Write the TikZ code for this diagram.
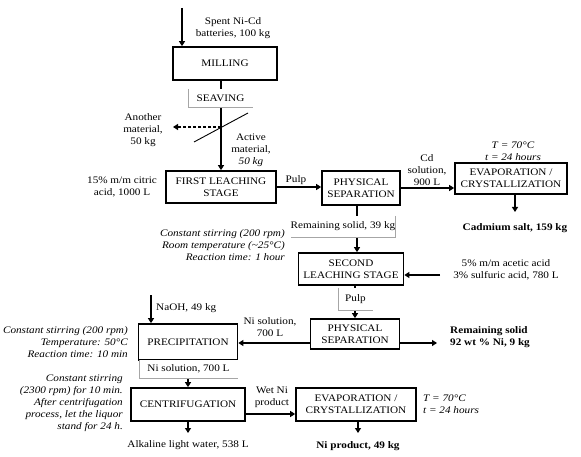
\documentclass[tikz,border=0pt]{standalone}
\usepackage{fontspec}
\setmainfont{Liberation Serif}[FakeStretch=1.12]
\usepackage{tikz}
\usetikzlibrary{arrows.meta}
\tikzset{
  proc/.style={draw, line width=1.7pt, align=center, inner sep=1pt,
    font=\fontsize{10}{12}\selectfont},
  flow/.style={-{Triangle[length=5pt,width=6pt]}, line width=1.6pt},
  tag/.style={draw=gray!70, line width=0.6pt},
  tagbox/.style={fill=white, inner sep=0pt, font=\fontsize{10}{12}\selectfont},
  lbl/.style={align=center, inner sep=1pt, font=\fontsize{10}{12}\selectfont},
  cond/.style={align=right, inner sep=1pt, font=\fontsize{10}{12}\selectfont\itshape},
  prod/.style={align=center, inner sep=1pt, font=\fontsize{10}{12}\selectfont\bfseries},
}
\begin{document}
\begin{tikzpicture}[x=1pt, y=-1pt]
  \useasboundingbox (0,0) rectangle (581,457);

  % process boxes
  \node[proc, minimum width=104pt, minimum height=33pt] (milling) at (225,63.5) {MILLING};
  \node[proc, minimum width=110pt, minimum height=32pt] (first) at (221,187) {FIRST LEACHING\\STAGE};
  \node[proc, minimum width=78pt, minimum height=34pt] (phys1) at (361,188) {PHYSICAL\\SEPARATION};
  \node[proc, minimum width=112pt, minimum height=31pt] (evap1) at (511,178.5) {EVAPORATION /\\CRYSTALLIZATION};
  \node[proc, minimum width=105pt, minimum height=32pt] (second) at (351,269) {SECOND\\LEACHING STAGE};
  \node[proc, minimum width=89pt, minimum height=30pt] (phys2) at (355,334) {PHYSICAL\\SEPARATION};
  \node[proc, minimum width=99pt, minimum height=36pt] (precip) at (188,342) {PRECIPITATION};
  \node[proc, minimum width=114pt, minimum height=33pt] (centrif) at (188,404.5) {CENTRIFUGATION};
  \node[proc, minimum width=120pt, minimum height=33pt] (evap2) at (356,404.5) {EVAPORATION /\\CRYSTALLIZATION};

  % feed and milling
  \coordinate (feed) at (182,8);
  \draw[flow] (feed) -- (feed |- milling.north);
  \node[lbl] (feedlbl) at (233,28) {Spent Ni-Cd\\batteries, 100 kg};
  \draw[flow] (milling.south -| first.north) -- (first.north);
  \draw[line width=0.9pt] (194,142) -- (248,113);
  \coordinate (split) at (221,127);
  \coordinate (reject) at (173,127);
  \draw[flow, dash pattern=on 3pt off 2pt] (split) -- (reject);
  \node[lbl] (another) at (143,130) {Another\\material,\\50 kg};
  \node[lbl] (active) at (251,150) {Active\\material,\\\textit{50 kg}};

  % first leaching
  \node[lbl] (citric) at (122,187) {15\% m/m citric\\acid, 1000 L};
  \draw[flow] (first.east) -- (first.east -| phys1.west);
  \node[lbl] (pulp1) at (296,180) {Pulp};
  \draw[flow] (phys1.east) -- (phys1.east -| evap1.west);
  \node[lbl] (cdsol) at (427,170) {Cd\\solution,\\900 L};
  \node[cond, align=center] (cond0) at (513,151) {T = 70°C\\t = 24 hours};
  \coordinate (cdout) at (515,212);
  \draw[flow] (evap1.south -| cdout) -- (cdout);
  \node[prod] (cdsalt) at (515,228) {Cadmium salt, 159 kg};

  % second leaching
  \draw[flow] (phys1.south -| 357,0) -- (second.north -| 357,0);
  \node[cond, anchor=east] (cond1) at (286,245) {Constant stirring (200 rpm)\\Room temperature (\textasciitilde25°C)\\Reaction time: 1 hour};
  \coordinate (acid) at (440,275);
  \draw[flow] (acid) -- (acid -| second.east);
  \node[lbl] (acidlbl) at (506,270) {5\% m/m acetic acid\\3\% sulfuric acid, 780 L};
  \draw[flow] (second.south -| phys2.north) -- (phys2.north);

  % nickel recovery
  \coordinate (solid) at (437,343);
  \draw[flow] (solid -| phys2.east) -- (solid);
  \node[prod, anchor=west, align=left] (remain2) at (449,337) {Remaining solid\\92 wt \% Ni, 9 kg};
  \draw[flow] (solid -| phys2.west) -- (solid -| precip.east);
  \node[lbl] (nisol1) at (270,327) {Ni solution,\\700 L};
  \coordinate (naoh) at (151,295);
  \draw[flow] (naoh) -- (naoh |- precip.north);
  \node[lbl, anchor=west] (naohlbl) at (155,308) {NaOH, 49 kg};
  \node[cond, anchor=east] (cond2) at (129,342) {Constant stirring (200 rpm)\\Temperature: 50°C\\Reaction time: 10 min};
  \draw[flow] (precip.south) -- (centrif.north);
  \node[cond, anchor=east] (cond3) at (124,403) {Constant stirring\\(2300 rpm) for 10 min.\\After centrifugation\\process, let the liquor\\stand for 24 h.};
  \coordinate (water) at (188,433);
  \draw[flow] (centrif.south) -- (water);
  \node[lbl] (waterlbl) at (188,445) {Alkaline light water, 538 L};
  \coordinate (wet) at (0,414);
  \draw[flow] (wet -| centrif.east) -- (wet -| evap2.west);
  \node[lbl] (wetlbl) at (272,397) {Wet Ni\\product};
  \node[cond, anchor=west, align=left] (cond4) at (422,404) {T = 70°C\\t = 24 hours};
  \coordinate (niout) at (358,433);
  \draw[flow] (evap2.south -| niout) -- (niout);
  \node[prod] (niprod) at (358,446) {Ni product, 49 kg};

  % stream tags over the lines
  \node[tagbox, minimum width=65pt, minimum height=18pt] (seaving) at (220.5,98) {SEAVING};
  \draw[tag] (seaving.north west) |- (seaving.south east);
  \node[tagbox, minimum width=102pt, minimum height=21pt] (remain1) at (343,226.5) {Remaining solid, 39 kg};
  \draw[tag] (remain1.north east) |- (remain1.south west);
  \node[tagbox, minimum width=35pt, minimum height=22pt] (pulp2) at (355.5,299) {Pulp};
  \draw[tag] (pulp2.north west) |- (pulp2.south east);
  \node[tagbox, minimum width=99pt, minimum height=18pt] (nisol2) at (188.5,369) {Ni solution, 700 L};
  \draw[tag] (nisol2.north west) |- (nisol2.south east);
\end{tikzpicture}
\end{document}
